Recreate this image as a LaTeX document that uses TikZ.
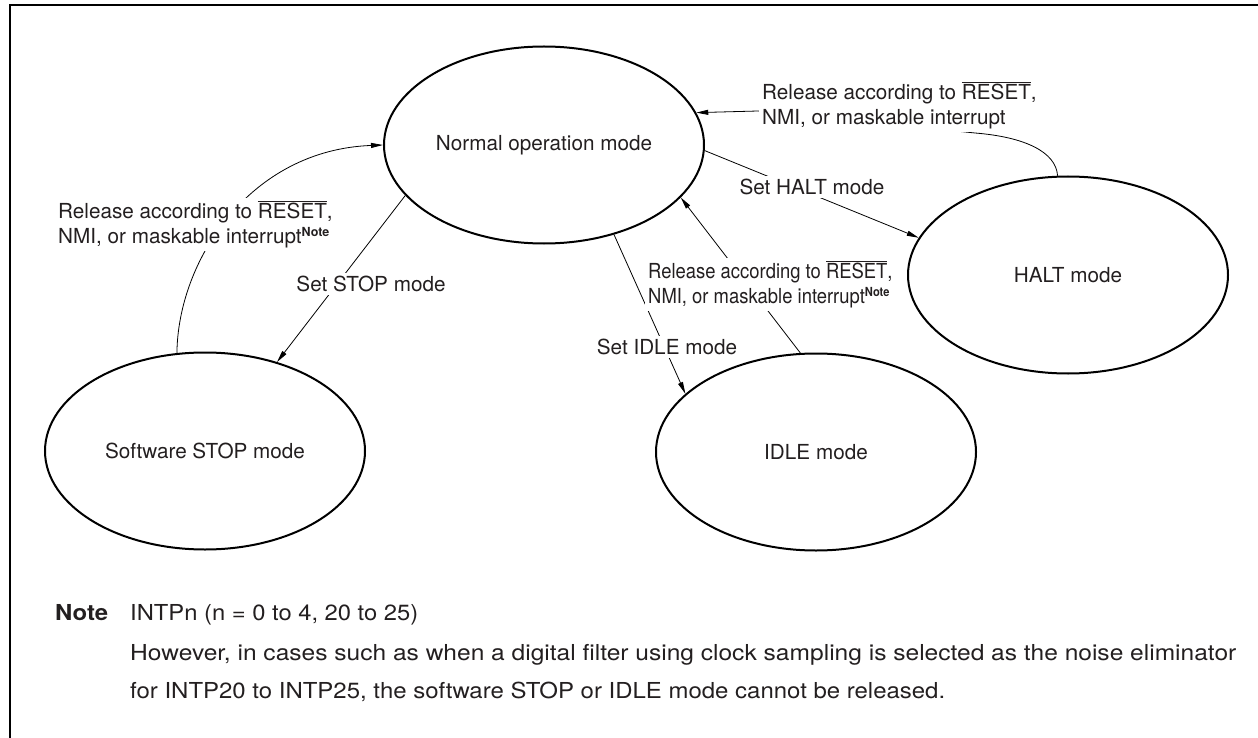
\documentclass[tikz,border=0pt]{standalone}
\usepackage{fontspec}
\usepackage{graphicx}
\setmainfont{TeX Gyre Heros}
\usetikzlibrary{shapes.geometric,arrows.meta}
\definecolor{txt}{RGB}{35,31,32}
\newcommand{\rst}{$\overline{\hbox{RESET}}$}
\newcommand{\notesup}{\raisebox{7.5pt}{\fontsize{12.5}{12.5}\selectfont\bfseries Note}}
\newcommand{\cnd}[1]{\scalebox{0.89}[1]{#1}}
\newcommand{\wline}[2]{\resizebox{#1}{\height}{#2}}
\begin{document}
\begin{tikzpicture}[x=1pt,y=-1pt,
  mode/.style={ellipse,draw,line width=2pt,minimum width=320pt,minimum height=197pt,inner sep=0pt,text=txt,font=\fontsize{20.7}{25}\selectfont},
  conn/.style={line width=0.8pt},
  arr/.style={conn,-{Triangle[length=12pt,width=5pt]}},
  lbl/.style={fill=white,inner sep=3pt,align=left,text=txt,font=\fontsize{20.7}{25.5}\selectfont},
  note/.style={inner sep=0pt,anchor=base west,text=txt,font=\fontsize{22}{26}\selectfont},
]
\useasboundingbox (0,0) rectangle (1258,738);
\draw[line width=2.4pt] (10,740) -- (10,5) -- (1260,5);

% states
\node[mode] (N) at (544,145) {Normal operation mode};
\node[mode] (S) at (205,451) {Software STOP mode};
\node[mode] (I) at (816,452) {IDLE mode};
\node[mode] (H) at (1068,275) {HALT mode};

% connectors
\draw[arr] (S.106) .. controls (178,260) and (250,150) .. (N.west);
\draw[arr] (N.200) -- (S.51);
\draw[arr] (N.-2) -- (H.166);
\draw[arr] (H.96) .. controls (1056,152) and (1025,137) .. (975,133) -- (758,111) -- (N.12.7);
\draw[arr] (N.-52.5) -- (I.156);
\draw[arr] (I.99) -- (N.-21);

% labels
\node[lbl,anchor=west] (lS) at (55,224.5) {Release according to \rst,\\NMI, or maskable interrupt\notesup};
\node[lbl] (sS) at (371,284) {Set STOP mode};
\node[lbl,anchor=west] (lH) at (759,105.5) {Release according to \rst,\\NMI, or maskable interrupt};
\node[lbl] (sH) at (812,187) {Set HALT mode};
\node[lbl,anchor=west] (lI) at (645,284.5) {\cnd{Release according to \rst,}\\\cnd{NMI, or maskable interrupt\notesup}};
\node[lbl] (sI) at (667,347) {Set IDLE mode};

% note
\node[note] (nt) at (55,620) {\wline{53pt}{\bfseries Note}};
\node[note] (n1) at (130,620) {\wline{288pt}{INTPn (n = 0 to 4, 20 to 25)}};
\node[note] (n2) at (130,660) {\wline{1106pt}{However, in cases such as when a digital filter using clock sampling is selected as the noise eliminator}};
\node[note] (n3) at (130,698) {\wline{815pt}{for INTP20 to INTP25, the software STOP or IDLE mode cannot be released.}};
\end{tikzpicture}
\end{document}
